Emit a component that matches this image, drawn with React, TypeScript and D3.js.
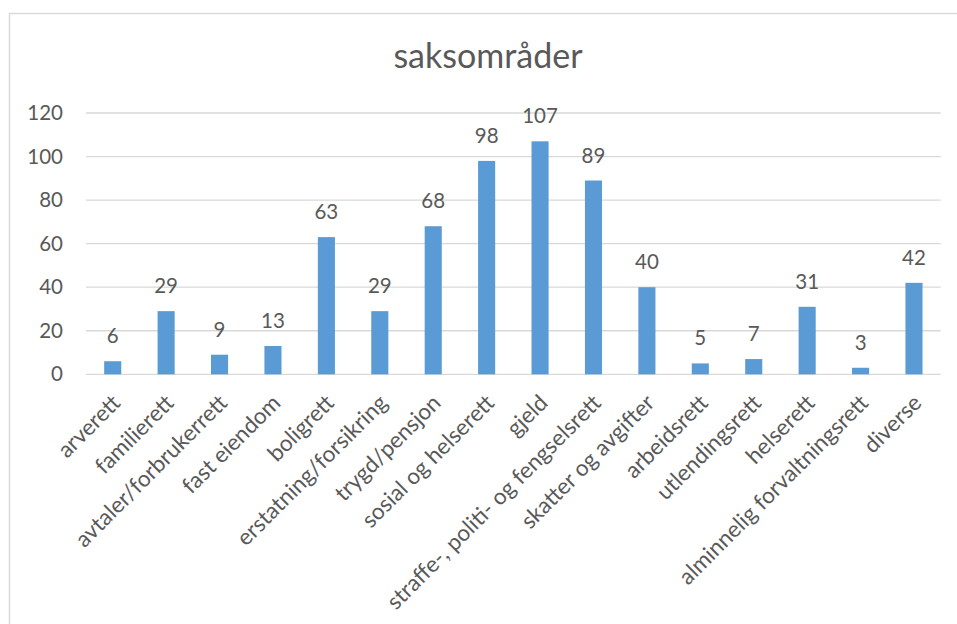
import React from "react";
import * as d3 from "d3";

const categories = [
  "arverett",
  "familierett",
  "avtaler/forbrukerrett",
  "fast eiendom",
  "boligrett",
  "erstatning/forsikring",
  "trygd/pensjon",
  "sosial og helserett",
  "gjeld",
  "straffe-, politi- og fengselsrett",
  "skatter og avgifter",
  "arbeidsrett",
  "utlendingsrett",
  "helserett",
  "alminnelig forvaltningsrett",
  "diverse",
];
const values = [6, 29, 9, 13, 63, 29, 68, 98, 107, 89, 40, 5, 7, 31, 3, 42];
const yTicks = [0, 20, 40, 60, 80, 100, 120];
const title = "saksområder";

const W = 957;
const H = 624;
const plotLeft = 86;
const plotRight = 940.7;
const plotTop = 113;
const plotBottom = 374.3;
const FONT = "Lato, 'Open Sans', sans-serif";
const TEXT = "#595959";
const GRID = "#d9d9d9";
const BAR = "#5b9bd5";

export default function App() {
  const x = d3
    .scaleBand<string>()
    .domain(categories)
    .range([plotLeft, plotRight])
    .paddingInner(0.68)
    .paddingOuter(0.34);
  const y = d3.scaleLinear().domain([0, 120]).range([plotBottom, plotTop]);

  return (
    <svg
      width={W}
      height={H}
      style={{ position: "absolute", left: 0, top: 0, background: "#fff" }}
    >
      <rect x={0} y={0} width={W} height={H} fill="#fff" />
      <rect
        x={9.5}
        y={13.5}
        width={1000}
        height={700}
        fill="none"
        stroke={GRID}
        strokeWidth={1.5}
      />
      <text
        x={488}
        y={68}
        textAnchor="middle"
        fontFamily={FONT}
        fontSize={34}
        fill={TEXT}
      >
        {title}
      </text>
      {yTicks.map((t) => (
        <g key={t}>
          <line
            x1={plotLeft}
            x2={plotRight}
            y1={y(t)}
            y2={y(t)}
            stroke={GRID}
            strokeWidth={1.3}
          />
          <text
            x={63}
            y={y(t)}
            dy="0.35em"
            textAnchor="end"
            fontFamily={FONT}
            fontSize={20.5}
            fill={TEXT}
          >
            {t}
          </text>
        </g>
      ))}
      {categories.map((c, i) => {
        const bx = x(c)!;
        const bw = x.bandwidth();
        const cx = bx + bw / 2;
        return (
          <g key={c}>
            <rect
              x={bx}
              y={y(values[i])}
              width={bw}
              height={y(0) - y(values[i])}
              fill={BAR}
            />
            <text
              x={cx}
              y={y(values[i]) - 18}
              textAnchor="middle"
              fontFamily={FONT}
              fontSize={20.5}
              fill={TEXT}
            >
              {values[i]}
            </text>
            <text
              transform={`translate(${cx + 9},${plotBottom + 30}) rotate(-45)`}
              textAnchor="end"
              fontFamily={FONT}
              fontSize={22.5}
              fill={TEXT}
            >
              {c}
            </text>
          </g>
        );
      })}
    </svg>
  );
}
